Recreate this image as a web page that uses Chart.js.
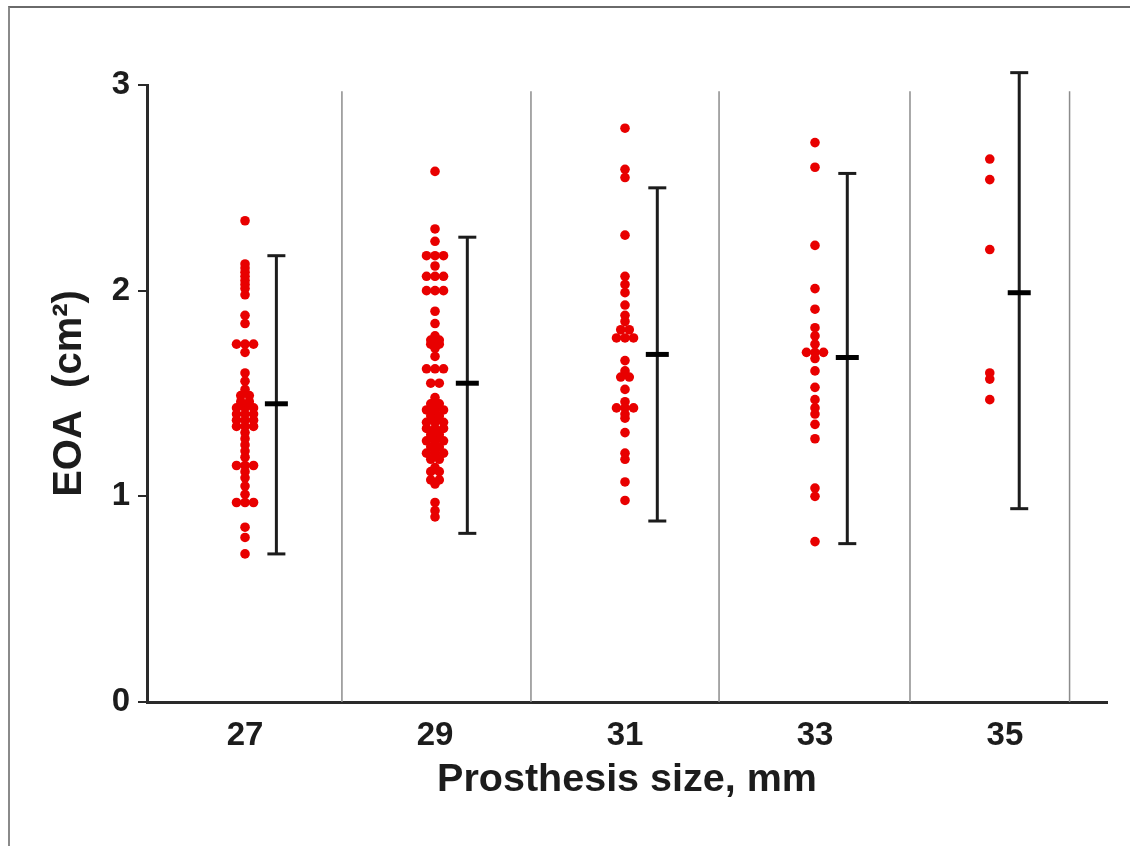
<!DOCTYPE html>
<html>
<head>
<meta charset="utf-8">
<script src="https://cdn.jsdelivr.net/npm/chart.js@4/dist/chart.umd.min.js"></script>
<style>
  html, body { margin: 0; padding: 0; background: #ffffff; }
  #wrap { position: relative; width: 1130px; height: 846px; overflow: hidden; }
  #frame { position: absolute; left: 8px; top: 6px; width: 1200px; height: 900px;
           border-top: 2px solid #6a6a6a; border-left: 2px solid #8a8a8a; box-sizing: border-box; }
  canvas { position: absolute; left: 0; top: 0; }
</style>
</head>
<body>
<div id="wrap">
  <div id="frame"></div>
  <canvas id="c" width="1130" height="846"></canvas>
</div>
<script>
// ---------------- DATA ----------------
const categories = ['27', '29', '31', '33', '35'];

const eoa27 = [2.34, 2.13, 2.11, 2.09, 2.07, 2.05, 2.03, 2.01, 1.98, 1.88, 1.84,
  1.74, 1.74, 1.74, 1.70, 1.60, 1.56, 1.52, 1.49, 1.49, 1.46, 1.46, 1.43, 1.43, 1.43,
  1.40, 1.40, 1.40, 1.37, 1.37, 1.37, 1.34, 1.34, 1.34, 1.31, 1.28, 1.25, 1.22, 1.19,
  1.15, 1.15, 1.15, 1.12, 1.09, 1.05, 1.01, 0.97, 0.97, 0.97, 0.85, 0.80, 0.72];

const eoa29 = [2.58, 2.30, 2.24, 2.17, 2.17, 2.17, 2.12, 2.07, 2.07, 2.07, 2.00, 2.00,
  2.00, 1.90, 1.84, 1.78, 1.76, 1.76, 1.74, 1.74, 1.72, 1.68, 1.62, 1.62, 1.62, 1.55,
  1.55, 1.48, 1.45, 1.45, 1.42, 1.42, 1.42, 1.39, 1.39, 1.36, 1.36, 1.36, 1.33, 1.33,
  1.33, 1.30, 1.30, 1.27, 1.27, 1.27, 1.24, 1.24, 1.21, 1.21, 1.21, 1.18, 1.18, 1.14,
  1.12, 1.12, 1.08, 1.08, 1.06, 0.97, 0.93, 0.90];

const eoa31 = [2.79, 2.59, 2.55, 2.27, 2.07, 2.03, 1.99, 1.93, 1.88, 1.85, 1.81, 1.81,
  1.77, 1.77, 1.77, 1.66, 1.61, 1.58, 1.58, 1.52, 1.46, 1.43, 1.43, 1.43, 1.40, 1.38,
  1.31, 1.21, 1.18, 1.07, 0.98];

const eoa33 = [2.72, 2.60, 2.22, 2.01, 1.91, 1.82, 1.78, 1.74, 1.70, 1.70, 1.70, 1.67,
  1.61, 1.53, 1.47, 1.43, 1.40, 1.35, 1.28, 1.04, 1.00, 0.78];

const eoa35 = [2.64, 2.54, 2.20, 1.60, 1.57, 1.47];

const meanValues = [1.45, 1.55, 1.69, 1.675, 1.99];
const upperValues = [2.17, 2.26, 2.50, 2.57, 3.06];
const lowerValues = [0.72, 0.82, 0.88, 0.77, 0.94];

const yTickValues = [0, 1, 2, 3];
const separatorTop = 2.97;

// ---------------- LAYOUT (positions on the x scale, not data) ----------------
const catPos = [0, 1, 2, 3, 4];
const dotPos = [0, 1, 2, 3, 3.92];
const barPos = [0.165, 1.17, 2.17, 3.17, 4.075];
const sepPos = [0.51, 1.505, 2.495, 3.5, 4.34];
const CAP_HALF_PX = 9;
const DOT_SPACING_PX = 8.5;

const groups = [eoa27, eoa29, eoa31, eoa33, eoa35];
const RED = 'rgb(232,0,0)';
const INK = '#1c1c1c';
const FONT = "'Liberation Sans', Arial, Helvetica, sans-serif";

const datasets = [];

// separators
sepPos.forEach(s => {
  datasets.push({
    type: 'scatter', showLine: true, data: [{x: s, y: 0}, {x: s, y: separatorTop}],
    borderColor: '#8c8c8c', borderWidth: 1.5, pointRadius: 0, order: 5
  });
});

// dots
groups.forEach((vals, g) => {
  datasets.push({
    type: 'scatter', data: vals.map(v => ({x: dotPos[g], y: v})),
    backgroundColor: RED, borderWidth: 0, pointRadius: 4.8, pointHoverRadius: 4.8,
    order: 2, _group: g
  });
});

// whiskers
categories.forEach((c, g) => {
  datasets.push({
    type: 'scatter', showLine: true, clip: false,
    data: [{x: barPos[g], y: lowerValues[g]}, {x: barPos[g], y: upperValues[g]}],
    borderColor: INK, borderWidth: 3, pointRadius: 0, order: 1
  });
});

// caps (short horizontal segments, widened after layout)
categories.forEach((c, g) => {
  [upperValues[g], lowerValues[g]].forEach(v => {
    datasets.push({
      type: 'scatter', showLine: true, clip: false,
      data: [{x: barPos[g], y: v}, {x: barPos[g], y: v}],
      borderColor: INK, borderWidth: 3, pointRadius: 0, order: 1, _cap: g
    });
  });
});

// means
datasets.push({
  type: 'scatter', clip: false,
  data: categories.map((c, g) => ({x: barPos[g], y: meanValues[g]})),
  pointStyle: 'line', pointRadius: 11.5, pointHoverRadius: 11.5, borderColor: '#000', borderWidth: 5, order: 0
});

const chart = new Chart(document.getElementById('c'), {
  type: 'scatter',
  data: { datasets },
  options: {
    responsive: false, animation: false, devicePixelRatio: 1,
    layout: { padding: { top: 85, right: 23, left: 0, bottom: 0 } },
    plugins: { legend: { display: false }, tooltip: { enabled: false } },
    scales: {
      x: {
        type: 'linear', min: -0.516, max: 4.537,
        afterBuildTicks: s => { s.ticks = catPos.map(v => ({ value: v })); },
        afterFit: s => { s.height = 144; },
        grid: { display: false, drawTicks: false },
        border: { display: true, color: '#2a2a2a', width: 3 },
        ticks: {
          padding: 14, color: INK, font: { family: FONT, size: 33, weight: 'bold' },
          callback: (v) => { const i = catPos.indexOf(v); return i >= 0 ? categories[i] : ''; },
          maxRotation: 0, autoSkip: false
        },
        title: {
          display: true, text: 'Prosthesis size, mm', color: INK,
          font: { family: FONT, size: 39.5, weight: 'bold' }, padding: { top: 0, bottom: 42 }
        }
      },
      y: {
        type: 'linear', min: 0, max: 3,
        afterBuildTicks: s => { s.ticks = yTickValues.map(v => ({ value: v })); },
        afterFit: s => { s.width = 147; },
        grid: { display: true, drawOnChartArea: false, drawTicks: true, tickLength: 9, tickWidth: 2, tickColor: '#2a2a2a', color: '#2a2a2a', lineWidth: 0 },
        border: { display: true, color: '#2a2a2a', width: 3 },
        ticks: { padding: 8, color: INK, font: { family: FONT, size: 33, weight: 'bold' } },
        title: {
          display: true, text: 'EOA  (cm²)', color: INK,
          font: { family: FONT, size: 40, weight: 'bold' }, padding: { top: 46, bottom: 0 }
        }
      }
    }
  }
});

// spread equal values side by side (column scatter) and widen caps, using the chart's own scales
(function finishLayout() {
  const xs = chart.scales.x;
  chart.data.datasets.forEach(ds => {
    if (ds._cap !== undefined) {
      const cx = xs.getPixelForValue(barPos[ds._cap]);
      ds.data = [
        { x: xs.getValueForPixel(cx - CAP_HALF_PX), y: ds.data[0].y },
        { x: xs.getValueForPixel(cx + CAP_HALF_PX), y: ds.data[1].y }
      ];
      return;
    }
    if (ds._group === undefined) return;
    const g = ds._group;
    const vals = groups[g];
    const cx = xs.getPixelForValue(dotPos[g]);
    const counts = {};
    vals.forEach(v => { counts[v] = (counts[v] || 0) + 1; });
    const seen = {};
    ds.data = vals.map(v => {
      const n = counts[v];
      const k = seen[v] = (seen[v] === undefined ? 0 : seen[v] + 1);
      const px = cx + (k - (n - 1) / 2) * DOT_SPACING_PX;
      return { x: xs.getValueForPixel(px), y: v };
    });
  });
  chart.update('none');
})();
</script>
</body>
</html>
